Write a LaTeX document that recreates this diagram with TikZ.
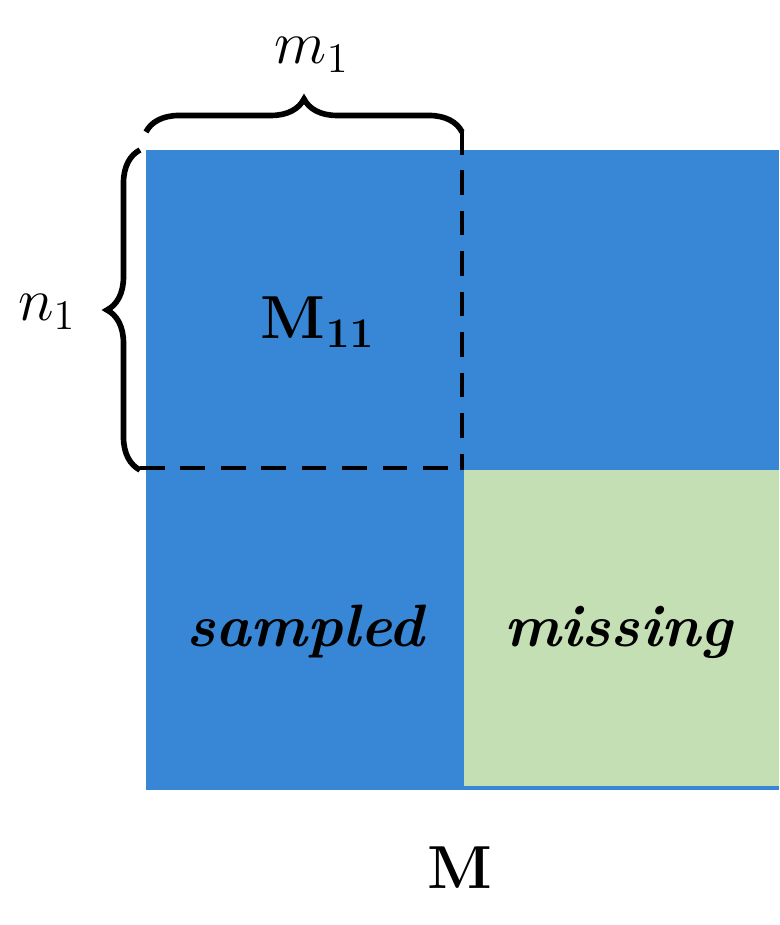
\documentclass[tikz,border=0pt]{standalone}
\usetikzlibrary{decorations.pathreplacing}
\definecolor{sampblue}{HTML}{3787D6}
\definecolor{missgreen}{HTML}{C5DFB5}
\tikzset{
  bigtext/.style={font=\fontsize{17}{20}\selectfont},
  curly/.style={decorate,decoration={brace,amplitude=0.33cm},line width=1.6pt},
  blockline/.style={dashed,dash pattern=on 7pt off 4.5pt,line width=1.4pt}
}
\begin{document}
\begin{tikzpicture}[x=0.01cm,y=-0.01cm]
 \useasboundingbox (0,0) rectangle (779,925);
 \fill[sampblue](146,150) rectangle (779,790);
 \fill[missgreen](464,470) rectangle (779,786);
 \draw[blockline](462,130)--(462,470);
 \draw[blockline](140,468)--(462,468);
 \draw[curly](146,132)--(462,132);
 \draw[curly](140,470)--(140,150);
 \node[bigtext] (mone) at (312,55) {$m_1$};
 \node[bigtext] (none) at (47,312) {$n_1$};
 \node[bigtext] (mblock) at (318,322) {$\mathbf{M}_{\mathbf{11}}$};
 \node[bigtext] (samp) at (305,632) {\bfseries\itshape sampled};
 \node[bigtext] (miss) at (618,632) {\bfseries\itshape missing};
 \node[bigtext] (mat) at (460,868) {$\mathbf{M}$};
\end{tikzpicture}
\end{document}
